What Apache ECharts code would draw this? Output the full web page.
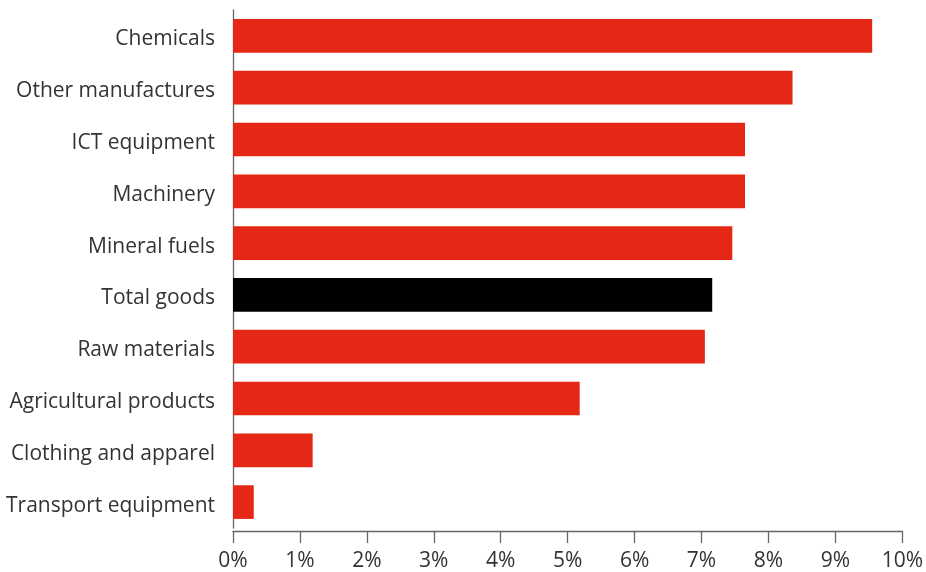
<!DOCTYPE html>
<html>
<head>
<meta charset="utf-8">
<script src="https://cdn.jsdelivr.net/npm/echarts@6/dist/echarts.min.js"></script>
<style>
html,body{margin:0;padding:0;background:#fff;}
#chart{width:926px;height:572px;}
</style>
</head>
<body>
<div id="chart"></div>
<script>
var categories = ["Chemicals","Other manufactures","ICT equipment","Machinery","Mineral fuels","Total goods","Raw materials","Agricultural products","Clothing and apparel","Transport equipment"];
var values = [9.55, 8.36, 7.65, 7.65, 7.46, 7.16, 7.05, 5.18, 1.19, 0.31];
var highlight = "Total goods";
var xTicks = [0,1,2,3,4,5,6,7,8,9,10];

var chart = echarts.init(document.getElementById('chart'), null, {renderer:'canvas'});
var data = values.map(function(v,i){
  return {value: v, itemStyle: {color: categories[i] === highlight ? '#000000' : '#e52815'}};
});
chart.setOption({
  animation: false,
  grid: {left: 233, right: 23, top: 10, bottom: 42, containLabel: false},
  xAxis: {
    type: 'value', min: xTicks[0], max: xTicks[xTicks.length-1], interval: 1,
    offset: 3,
    axisLine: {show: true, lineStyle: {color: '#666', width: 1.3}},
    axisTick: {show: true, length: 12, lineStyle: {color: '#666', width: 1.3}},
    splitLine: {show: false},
    axisLabel: {formatter: '{value}%', color: '#333', fontSize: 21, fontFamily: 'Open Sans', margin: 20}
  },
  yAxis: {
    type: 'category', data: categories, inverse: true,
    axisLine: {show: true, lineStyle: {color: '#666', width: 1.3}},
    axisTick: {show: false},
    axisLabel: {color: '#333', fontSize: 21, fontFamily: 'Open Sans', margin: 18, verticalAlign: 'top', padding: [-7,0,0,0]}
  },
  series: [{
    type: 'bar', data: data, barCategoryGap: '35%'
  }]
});
</script>
</body>
</html>
